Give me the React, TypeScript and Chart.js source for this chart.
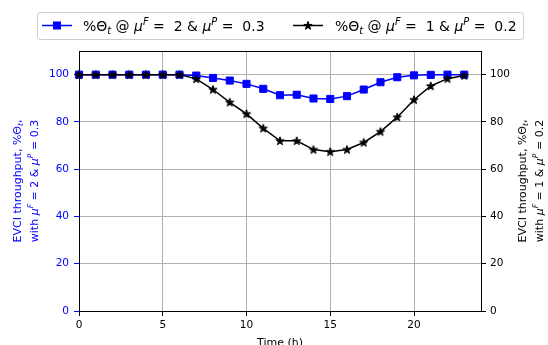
import React, { useEffect, useRef } from 'react';
import { Chart, registerables } from 'chart.js';

Chart.register(...registerables);

const hours = [0, 1, 2, 3, 4, 5, 6, 7, 8, 9, 10, 11, 12, 13, 14, 15, 16, 17, 18, 19, 20, 21, 22, 23];
const throughputF2 = [100, 100, 100, 100, 100, 100, 100, 99.6, 98.6, 97.5, 96.1, 94.0, 91.3, 91.5, 89.9, 89.7, 90.9, 93.7, 96.8, 98.9, 99.7, 99.9, 100, 100];
const throughputF1 = [100, 100, 100, 100, 100, 100, 100, 98.2, 93.7, 88.3, 83.4, 77.3, 72.0, 72.0, 68.3, 67.4, 68.3, 71.3, 75.9, 82.0, 89.4, 95.2, 98.3, 99.6];
const xTickValues = [0, 5, 10, 15, 20];
const yTickValues = [0, 20, 40, 60, 80, 100];

const FAM = '"DejaVu Sans"';

type Seg = { t: string; sub?: boolean; sup?: boolean; it?: boolean };

const legendA: Seg[] = [
  { t: '%Θ' }, { t: 't', sub: true, it: true }, { t: ' @ ' }, { t: 'μ', it: true }, { t: 'F', sup: true, it: true },
  { t: ' =  2 & ' }, { t: 'μ', it: true }, { t: 'P', sup: true, it: true }, { t: ' =  0.3' },
];
const legendB: Seg[] = [
  { t: '%Θ' }, { t: 't', sub: true, it: true }, { t: ' @ ' }, { t: 'μ', it: true }, { t: 'F', sup: true, it: true },
  { t: ' =  1 & ' }, { t: 'μ', it: true }, { t: 'P', sup: true, it: true }, { t: ' =  0.2' },
];
const titleLine1: Seg[] = [{ t: 'EVCI throughput, %Θ' }, { t: 't', sub: true, it: true }, { t: ',' }];
const titleLeft2: Seg[] = [
  { t: 'with ' }, { t: 'μ', it: true }, { t: 'F', sup: true, it: true }, { t: ' = 2 & ' },
  { t: 'μ', it: true }, { t: 'P', sup: true, it: true }, { t: ' = 0.3' },
];
const titleRight2: Seg[] = [
  { t: 'with ' }, { t: 'μ', it: true }, { t: 'F', sup: true, it: true }, { t: ' = 1 & ' },
  { t: 'μ', it: true }, { t: 'P', sup: true, it: true }, { t: ' = 0.2' },
];

function segFont(s: Seg, size: number) {
  const sz = s.sub || s.sup ? size * 0.7 : size;
  return `${s.it ? 'italic ' : ''}${sz}px ${FAM}`;
}

function richWidth(ctx: CanvasRenderingContext2D, segs: Seg[], size: number) {
  let w = 0;
  for (const s of segs) {
    ctx.font = segFont(s, size);
    w += ctx.measureText(s.t).width;
  }
  return w;
}

function drawRich(ctx: CanvasRenderingContext2D, segs: Seg[], x: number, y: number, size: number, color: string, align: 'left' | 'center') {
  ctx.save();
  ctx.fillStyle = color;
  ctx.textBaseline = 'alphabetic';
  ctx.textAlign = 'left';
  let cx = align === 'center' ? x - richWidth(ctx, segs, size) / 2 : x;
  for (const s of segs) {
    ctx.font = segFont(s, size);
    let dy = 0;
    if (s.sub) dy = size * 0.22;
    if (s.sup) dy = -size * 0.42;
    ctx.fillText(s.t, cx, y + dy);
    cx += ctx.measureText(s.t).width;
  }
  ctx.restore();
}

function starPath(ctx: CanvasRenderingContext2D, cx: number, cy: number, R: number) {
  const r = R * 0.382;
  ctx.beginPath();
  for (let i = 0; i < 10; i++) {
    const rad = i % 2 === 0 ? R : r;
    const a = -Math.PI / 2 + (i * Math.PI) / 5;
    const px = cx + rad * Math.cos(a);
    const py = cy + rad * Math.sin(a);
    if (i === 0) ctx.moveTo(px, py);
    else ctx.lineTo(px, py);
  }
  ctx.closePath();
}

function drawStar(ctx: CanvasRenderingContext2D, cx: number, cy: number, R: number, color: string) {
  ctx.save();
  starPath(ctx, cx, cy, R);
  ctx.fillStyle = color;
  ctx.strokeStyle = color;
  ctx.lineWidth = 1;
  ctx.lineJoin = 'miter';
  ctx.fill();
  ctx.stroke();
  ctx.restore();
}

function makeStarCanvas() {
  const c = document.createElement('canvas');
  c.width = 14;
  c.height = 14;
  const ctx = c.getContext('2d')!;
  drawStar(ctx, 7, 7.3, 4.4, '#000000');
  return c;
}

const overlayPlugin = {
  id: 'overlay',
  afterDraw(chart: any) {
    const ctx: CanvasRenderingContext2D = chart.ctx;
    const a = chart.chartArea;
    // top spine
    ctx.save();
    ctx.strokeStyle = '#000';
    ctx.lineWidth = 1;
    ctx.beginPath();
    ctx.moveTo(Math.round(a.left) + 0.5, Math.round(a.top) + 0.5);
    ctx.lineTo(Math.round(a.right) + 0.5, Math.round(a.top) + 0.5);
    ctx.stroke();
    ctx.restore();

    const cy = (a.top + a.bottom) / 2;
    // left title (rotated: canvas x = v, canvas y = cy - u)
    ctx.save();
    ctx.translate(0, cy);
    ctx.rotate(-Math.PI / 2);
    drawRich(ctx, titleLine1, 0, 21, 11, '#0000ff', 'center');
    drawRich(ctx, titleLeft2, 0, 38, 11, '#0000ff', 'center');
    ctx.restore();
    // right title
    ctx.save();
    ctx.translate(0, cy);
    ctx.rotate(-Math.PI / 2);
    drawRich(ctx, titleLine1, 0, 526, 11, '#000000', 'center');
    drawRich(ctx, titleRight2, 0, 543, 11, '#000000', 'center');
    ctx.restore();

    // x title
    drawRich(ctx, [{ t: 'Time (h)' }], (a.left + a.right) / 2, 346, 11, '#000000', 'center');

    // legend
    ctx.save();
    const bx = 37.5, by = 12.5, bw = 486, bh = 27, rr = 3;
    ctx.beginPath();
    ctx.moveTo(bx + rr, by);
    ctx.lineTo(bx + bw - rr, by);
    ctx.arcTo(bx + bw, by, bx + bw, by + rr, rr);
    ctx.lineTo(bx + bw, by + bh - rr);
    ctx.arcTo(bx + bw, by + bh, bx + bw - rr, by + bh, rr);
    ctx.lineTo(bx + rr, by + bh);
    ctx.arcTo(bx, by + bh, bx, by + bh - rr, rr);
    ctx.lineTo(bx, by + rr);
    ctx.arcTo(bx, by, bx + rr, by, rr);
    ctx.closePath();
    ctx.fillStyle = 'rgba(255,255,255,0.8)';
    ctx.fill();
    ctx.strokeStyle = '#cccccc';
    ctx.lineWidth = 1;
    ctx.stroke();
    const ly = 25.5;
    ctx.lineWidth = 1.5;
    ctx.strokeStyle = '#0000ff';
    ctx.beginPath();
    ctx.moveTo(42, ly);
    ctx.lineTo(72, ly);
    ctx.stroke();
    ctx.fillStyle = '#0000ff';
    ctx.fillRect(57 - 4, ly - 4, 8, 8);
    ctx.strokeStyle = '#000000';
    ctx.beginPath();
    ctx.moveTo(293, ly);
    ctx.lineTo(323, ly);
    ctx.stroke();
    drawStar(ctx, 308, ly + 0.3, 4.4, '#000000');
    ctx.restore();
    drawRich(ctx, legendA, 83, 30.5, 14, '#000000', 'left');
    drawRich(ctx, legendB, 335, 30.5, 14, '#000000', 'left');
  },
};

export default function App() {
  const ref = useRef<HTMLCanvasElement | null>(null);
  useEffect(() => {
    if (!ref.current) return;
    const star = makeStarCanvas();
    const keepTicks = (vals: number[]) => (scale: any) => {
      scale.ticks = vals.map((v) => ({ value: v }));
    };
    const chart = new Chart(ref.current, {
      type: 'line',
      data: {
        datasets: [
          {
            label: 'F2',
            data: hours.map((h, i) => ({ x: h, y: throughputF2[i] })),
            borderColor: '#0000ff',
            backgroundColor: '#0000ff',
            borderWidth: 1.5,
            pointStyle: 'rect',
            pointRadius: 5,
            pointBorderWidth: 1,
            pointBorderColor: '#0000ff',
            pointBackgroundColor: '#0000ff',
            yAxisID: 'y',
            order: 1,
            clip: false as any,
            tension: 0,
          },
          {
            label: 'F1',
            data: hours.map((h, i) => ({ x: h, y: throughputF1[i] })),
            borderColor: '#000000',
            backgroundColor: '#000000',
            borderWidth: 1.5,
            pointStyle: star as any,
            pointRadius: 5,
            yAxisID: 'y2',
            order: 0,
            clip: false as any,
            tension: 0,
          },
        ],
      },
      options: {
        animation: false,
        responsive: false,
        devicePixelRatio: 1,
        events: [],
        layout: { padding: { top: 51, left: 0, right: 0, bottom: 0 } },
        plugins: { legend: { display: false }, tooltip: { enabled: false } },
        scales: {
          x: {
            type: 'linear',
            min: 0,
            max: 24,
            afterBuildTicks: keepTicks(xTickValues),
            afterFit: (s: any) => { s.height = 34; },
            ticks: { color: '#000', font: { family: FAM, size: 10.5 }, padding: 3, maxRotation: 0, autoSkip: false },
            grid: {
              color: (c: any) => (c.tick && c.tick.value === 0 ? 'rgba(0,0,0,0)' : '#b0b0b0'),
              lineWidth: 1,
              tickColor: '#000',
              tickLength: 5,
            },
            border: { color: '#000', width: 1 },
          },
          y: {
            type: 'linear',
            position: 'left',
            min: 0,
            max: 110,
            afterBuildTicks: keepTicks(yTickValues),
            afterFit: (s: any) => { s.width = 79; },
            ticks: { color: '#0000ff', font: { family: FAM, size: 10.5 }, padding: 5 },
            grid: {
              color: (c: any) => (c.tick && c.tick.value === 0 ? 'rgba(0,0,0,0)' : '#b0b0b0'),
              lineWidth: 1,
              tickColor: '#0000ff',
              tickLength: 5,
            },
            border: { color: '#000', width: 1 },
          },
          y2: {
            type: 'linear',
            position: 'right',
            min: 0,
            max: 110,
            afterBuildTicks: keepTicks(yTickValues),
            afterFit: (s: any) => { s.width = 67; },
            ticks: { color: '#000', font: { family: FAM, size: 10.5 }, padding: 4 },
            grid: { drawOnChartArea: false, tickColor: '#000', tickLength: 5 },
            border: { color: '#000', width: 1 },
          },
        },
      } as any,
      plugins: [overlayPlugin],
    });
    return () => chart.destroy();
  }, []);
  return (
    <div style={{ position: 'absolute', left: 0, top: 0, width: 548, height: 345, background: '#fff' }}>
      <canvas ref={ref} width={548} height={345} style={{ display: 'block', width: 548, height: 345 }} />
    </div>
  );
}
